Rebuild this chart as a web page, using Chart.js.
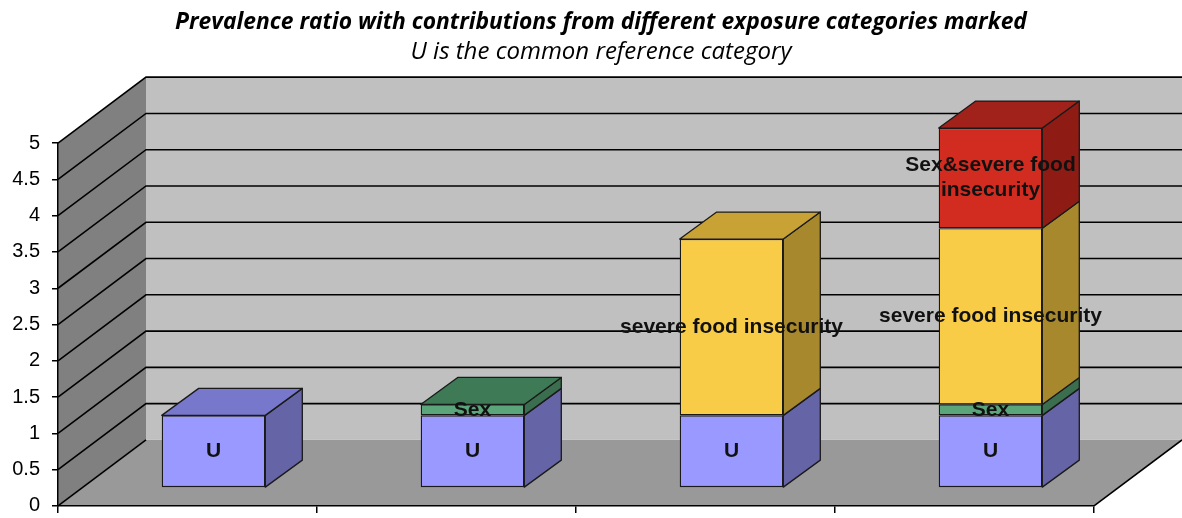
<!DOCTYPE html>
<html>
<head>
    <title>Prevalence ratio</title>
    <script src="https://cdn.jsdelivr.net/npm/chart.js"></script>
    <style>
        html, body { margin: 0; padding: 0; background: #fff; }
        #wrap { width: 1182px; height: 518px; }
    </style>
</head>
<body>
    <div id="wrap"><canvas id="myChart" width="1182" height="518"></canvas></div>
    <script>
        // categories (no labels shown on the x axis in the original)
        var categories = ['U', 'U + Sex', 'U + severe food insecurity', 'U + Sex + severe food insecurity'];
        // series values, stacked bottom to top
        var uValues = [1.0, 1.0, 1.0, 1.0];
        var sexValues = [null, 0.15, null, 0.15];
        var foodValues = [null, null, 2.43, 2.43];
        var sexFoodValues = [null, null, null, 1.38];
        var seriesNames = ['U', 'Sex', 'severe food insecurity', 'Sex&severe food insecurity'];
        var seriesLines = [['U'], ['Sex'], ['severe food insecurity'], ['Sex&severe food', 'insecurity']];
        var yMin = 0, yMax = 5, yStep = 0.5;

        var frontColors = ['#9999ff', '#5aa57a', '#f8cc46', '#d22b20'];
        var sideColors = ['#6464a6', '#3a6e4e', '#a8882c', '#8e1c14'];
        var topColors = ['#7777cc', '#3d7a55', '#c9a236', '#a0221a'];

        var WALL_DX = 88, WALL_DY = -66;   // depth of the walls
        var BAR_DX = 26, BAR_DY = -18;     // where the bar fronts sit
        var DEP_DX = 37, DEP_DY = -27;     // depth of a bar
        var TITLE_SHIFT = 10;              // titles sit a little right of centre

        var box3d = {
            id: 'box3d',
            afterLayout: function (chart) {
                chart.boxes.forEach(function (b) {
                    if (b.options && b.options.text !== undefined && b.position === 'top') {
                        b.left += TITLE_SHIFT;
                        b.right += TITLE_SHIFT;
                    }
                });
            },
            beforeDraw: function (chart) {
                var ctx = chart.ctx, a = chart.chartArea, y = chart.scales.y;
                var top = y.getPixelForValue(yMax);
                ctx.save();
                // back wall
                ctx.fillStyle = '#c0c0c0';
                ctx.fillRect(a.left + WALL_DX, top + WALL_DY, a.right - a.left, a.bottom - top);
                // left wall
                ctx.fillStyle = '#808080';
                ctx.beginPath();
                ctx.moveTo(a.left, top);
                ctx.lineTo(a.left + WALL_DX, top + WALL_DY);
                ctx.lineTo(a.left + WALL_DX, a.bottom + WALL_DY);
                ctx.lineTo(a.left, a.bottom);
                ctx.closePath();
                ctx.fill();
                // floor
                ctx.fillStyle = '#999999';
                ctx.beginPath();
                ctx.moveTo(a.left, a.bottom);
                ctx.lineTo(a.right, a.bottom);
                ctx.lineTo(a.right + WALL_DX, a.bottom + WALL_DY);
                ctx.lineTo(a.left + WALL_DX, a.bottom + WALL_DY);
                ctx.closePath();
                ctx.fill();
                // grid lines on the walls
                ctx.strokeStyle = '#000';
                ctx.lineWidth = 1.6;
                y.ticks.forEach(function (t) {
                    var py = y.getPixelForValue(t.value);
                    ctx.beginPath();
                    ctx.moveTo(a.left, py);
                    ctx.lineTo(a.left + WALL_DX, py + WALL_DY);
                    if (t.value > 0) ctx.lineTo(a.right + WALL_DX, py + WALL_DY);
                    ctx.stroke();
                });
                // floor right edge
                ctx.beginPath();
                ctx.moveTo(a.right, a.bottom);
                ctx.lineTo(a.right + WALL_DX, a.bottom + WALL_DY);
                ctx.stroke();
                ctx.restore();
            },
            beforeDatasetsDraw: function (chart) {
                chart.ctx.save();
                chart.ctx.translate(BAR_DX, BAR_DY);
            },
            afterDatasetsDraw: function (chart) {
                var ctx = chart.ctx;
                var n = chart.data.datasets.length;
                ctx.strokeStyle = '#1a1a1a';
                ctx.lineWidth = 1.3;
                ctx.lineJoin = 'round';
                // side and top faces
                for (var d = 0; d < n; d++) {
                    var ds = chart.data.datasets[d];
                    var meta = chart.getDatasetMeta(d);
                    meta.data.forEach(function (el, j) {
                        if (ds.data[j] == null) return;
                        var p = el.getProps(['x', 'y', 'base', 'width'], true);
                        var l = p.x - p.width / 2, r = p.x + p.width / 2;
                        ctx.fillStyle = sideColors[d];
                        ctx.beginPath();
                        ctx.moveTo(r, p.y);
                        ctx.lineTo(r + DEP_DX, p.y + DEP_DY);
                        ctx.lineTo(r + DEP_DX, p.base + DEP_DY);
                        ctx.lineTo(r, p.base);
                        ctx.closePath();
                        ctx.fill();
                        ctx.stroke();
                        var isTop = true;
                        for (var k = d + 1; k < n; k++) {
                            if (chart.data.datasets[k].data[j] != null) isTop = false;
                        }
                        if (isTop) {
                            ctx.fillStyle = topColors[d];
                            ctx.beginPath();
                            ctx.moveTo(l, p.y);
                            ctx.lineTo(l + DEP_DX, p.y + DEP_DY);
                            ctx.lineTo(r + DEP_DX, p.y + DEP_DY);
                            ctx.lineTo(r, p.y);
                            ctx.closePath();
                            ctx.fill();
                            ctx.stroke();
                        }
                    });
                }
                // segment labels
                ctx.fillStyle = '#111';
                ctx.font = 'bold 21px "Liberation Sans", Arial, sans-serif';
                ctx.textAlign = 'center';
                ctx.textBaseline = 'middle';
                for (var d2 = 0; d2 < n; d2++) {
                    var ds2 = chart.data.datasets[d2];
                    chart.getDatasetMeta(d2).data.forEach(function (el, j) {
                        if (ds2.data[j] == null) return;
                        var p = el.getProps(['x', 'y', 'base'], true);
                        var lines = seriesLines[d2];
                        var cy = (p.y + p.base) / 2 - (lines.length - 1) * 12.5;
                        lines.forEach(function (s, i) {
                            ctx.fillText(s, p.x, cy + i * 25);
                        });
                    });
                }
                ctx.restore();
            }
        };

        var datasets = [uValues, sexValues, foodValues, sexFoodValues].map(function (vals, i) {
            return {
                label: seriesNames[i],
                data: vals,
                backgroundColor: frontColors[i],
                borderColor: '#1a1a1a',
                borderWidth: 1.3,
                borderSkipped: false,
                barPercentage: 0.4,
                categoryPercentage: 1.0,
                clip: false
            };
        });

        var ctx = document.getElementById('myChart').getContext('2d');
        var myChart = new Chart(ctx, {
            type: 'bar',
            data: { labels: categories, datasets: datasets },
            plugins: [box3d],
            options: {
                responsive: false,
                animation: false,
                layout: { padding: { left: 0, right: 0, top: 0, bottom: 0 } },
                plugins: {
                    legend: { display: false },
                    tooltip: { enabled: false },
                    title: {
                        display: true,
                        text: 'Prevalence ratio with contributions from different exposure categories marked',
                        color: '#000',
                        font: { family: 'Open Sans', size: 22.8, weight: 'bold', style: 'italic' },
                        padding: { top: 9, bottom: 1 }
                    },
                    subtitle: {
                        display: true,
                        text: 'U is the common reference category',
                        color: '#000',
                        font: { family: 'Open Sans', size: 24, weight: 'normal', style: 'italic' },
                        padding: { top: 0, bottom: 77 }
                    }
                },
                scales: {
                    x: {
                        stacked: true,
                        offset: true,
                        grid: { drawOnChartArea: false, drawTicks: true, tickLength: 7, color: '#000', lineWidth: 1.5, offset: true },
                        border: { display: true, color: '#000', width: 1.5 },
                        ticks: { display: false },
                        afterFit: function (s) { s.height = 12; }
                    },
                    y: {
                        stacked: true,
                        min: yMin,
                        max: yMax,
                        ticks: {
                            stepSize: yStep, color: '#000', padding: 12,
                            font: { family: 'Liberation Sans', size: 20, lineHeight: 0.01 },
                            callback: function (v) { return String(v); }
                        },
                        grid: { drawOnChartArea: false, drawTicks: true, tickLength: 6, color: '#000', lineWidth: 1.5 },
                        border: { display: true, color: '#000', width: 1.5 },
                        afterFit: function (s) { s.width = 58; }
                    },
                    // empty right axis: keeps room for the wall depth
                    depth: {
                        position: 'right',
                        display: true,
                        grid: { display: false },
                        border: { display: false },
                        ticks: { display: false },
                        afterFit: function (s) { s.width = 88; }
                    }
                }
            }
        });
    </script>
</body>
</html>
